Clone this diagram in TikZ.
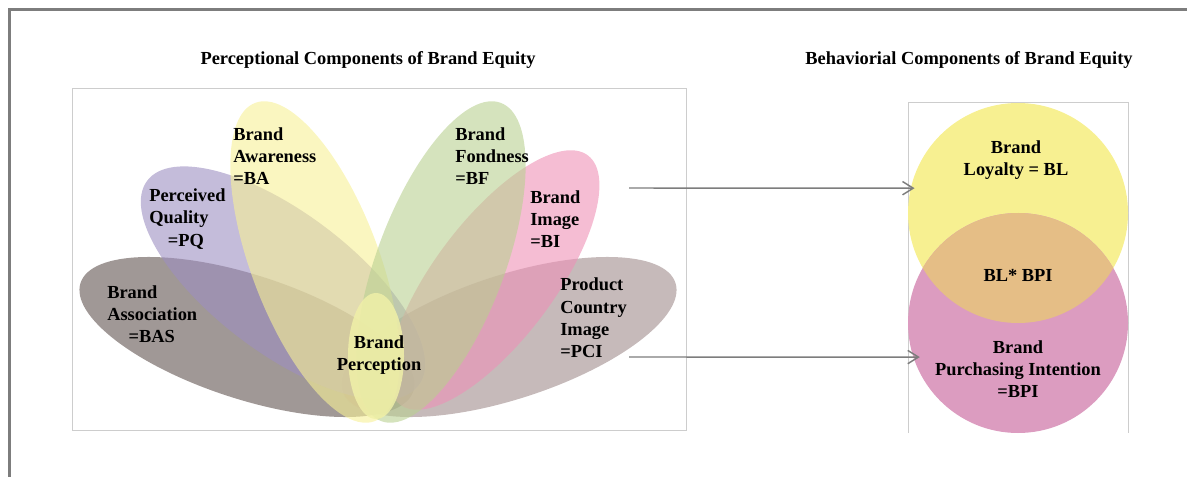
\documentclass[tikz,border=0pt]{standalone}
\usepackage{fontspec}
\setmainfont{Liberation Serif}
\usetikzlibrary{arrows.meta}

\definecolor{basgray}{RGB}{97,83,80}
\definecolor{pqpurple}{RGB}{157,143,193}
\definecolor{bayellow}{RGB}{247,240,150}
\definecolor{bfgreen}{RGB}{185,208,145}
\definecolor{bipink}{RGB}{238,145,182}
\definecolor{pcitaupe}{RGB}{160,140,140}
\definecolor{bpyellow}{RGB}{240,240,168}
\definecolor{blyellow}{RGB}{247,240,145}
\definecolor{bppink}{RGB}{220,156,192}
\definecolor{bothorange}{RGB}{229,190,134}
\definecolor{framegray}{RGB}{125,125,125}
\definecolor{boxgray}{RGB}{205,205,205}

\tikzset{
  petal/.style={fill opacity=0.6},
  lbl/.style={font=\fontsize{13.8}{16.7}\selectfont\bfseries, inner sep=0pt, align=left, anchor=west},
  clbl/.style={font=\fontsize{13.8}{16.7}\selectfont\bfseries, inner sep=0pt, align=center},
  ring/.style={circle, inner sep=0pt, minimum size=165pt},
  link/.style={draw=framegray, line width=1.1pt, -{Straight Barb[length=8pt,width=10pt]}}
}

\begin{document}
\begin{tikzpicture}[x=0.75pt,y=-0.75pt]
      \useasboundingbox (0,0) rectangle (1187,477);
      \draw[framegray, line width=2.25pt] (9,477) -- (9,10) -- (1187,10);

      \node[clbl] (ptitle) at (368,60) {Perceptional Components of Brand Equity};
      \node[clbl] (btitle) at (969,60) {Behaviorial Components of Brand Equity};

      \draw[boxgray, line width=0.6pt] (72,88) rectangle (686,430);
      \draw[boxgray, line width=0.6pt] (908,433) -- (908,102) -- (1128,102) -- (1128,433);

      % petals
      \fill[basgray, petal, rotate around={-18:(247,337)}] (247,337) ellipse [x radius=175, y radius=62];
      \fill[pcitaupe, petal, rotate around={18:(509,337)}] (509,337) ellipse [x radius=175, y radius=62];
      \fill[pqpurple, petal, rotate around={-37:(283,283)}] (283,283) ellipse [x radius=170, y radius=70];
      \fill[bipink, petal, rotate around={53:(494,280)}] (494,280) ellipse [x radius=156, y radius=60];
      \fill[bayellow, petal, rotate around={-69.4:(315,262)}] (315,262) ellipse [x radius=170, y radius=64];
      \fill[bfgreen, petal, rotate around={69.4:(441,262)}] (441,262) ellipse [x radius=170, y radius=64];
      \fill[bpyellow, fill opacity=0.85] (376,356) ellipse [x radius=28, y radius=63];

      \node[lbl] (bas) at (107,314) {Brand\\Association\\\hspace*{16pt}=BAS};
      \node[lbl] (pq) at (149,219) {Perceived\\Quality\\\hspace*{14pt}=PQ};
      \node[lbl] (ba) at (233,156) {Brand\\Awareness\\=BA};
      \node[lbl] (bf) at (455,156) {Brand\\Fondness\\=BF};
      \node[lbl] (bi) at (530,219) {Brand\\Image\\=BI};
      \node[lbl] (pci) at (560,318) {Product\\Country\\Image\\=PCI};
      \node[clbl] (bp) at (379,355) {Brand\\Perception};

      % behaviour circles
      \node[ring, fill=blyellow] (bl) at (1018,213) {};
      \node[ring, fill=bppink] (bpi) at (1018,323) {};
      \begin{scope}
        \clip (1018,213) circle [radius=82.5pt];
        \fill[bothorange] (1018,323) circle [radius=82.5pt];
      \end{scope}
      \node[clbl] (bltext) at (1016,160) {Brand\\Loyalty = BL};
      \node[clbl] (both) at (1018,275) {BL* BPI};
      \node[clbl] (bpitext) at (1018,369) {Brand\\Purchasing Intention\\=BPI};

      \coordinate (fromba) at (629,188);
      \coordinate (frompci) at (629,357);
      \draw[link, shorten >=-3pt] (fromba) -- (bl.167);
      \draw[link, shorten >=-5pt] (frompci) -- (bpi.198);

    \end{tikzpicture}
\end{document}
